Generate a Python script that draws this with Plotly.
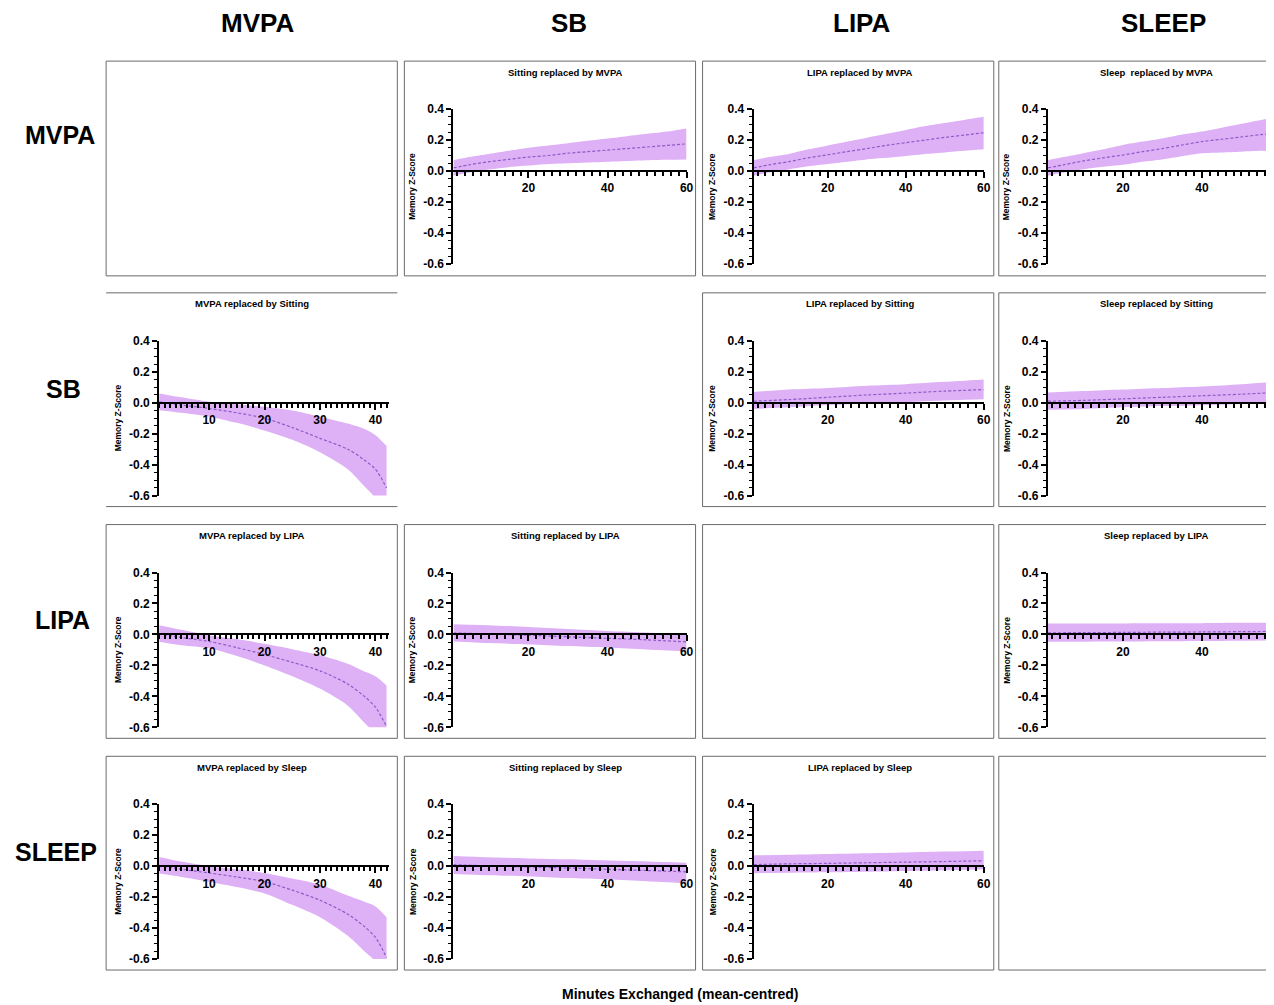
import plotly.graph_objects as go

# Empirical page geometry: plot div offset inside page, and capture scale
OX, OY = 8, 14
SX, SY = 1274 / 1282, 1005 / 1018
FW, FH = 1274, 1004          # figure size

# ---------------- data ----------------
row_labels = ["MVPA", "SB", "LIPA", "SLEEP"]
col_labels = ["MVPA", "SB", "LIPA", "SLEEP"]
y_tickvals = [0.4, 0.2, 0.0, -0.2, -0.4, -0.6]
y_ticktext = ["0.4", "0.2", "0.0", "-0.2", "-0.4", "-0.6"]
x_ticks_mvpa = [10, 20, 30, 40]
x_ticks_other = [20, 40, 60]
x_axis_title = "Minutes Exchanged (mean-centred)"
y_axis_title = "Memory Z-Score"

# minutes exchanged
x_mvpa = [1, 5, 10, 15, 20, 25, 30, 35, 38, 40, 42]
x_long = [1, 5, 10, 15, 20, 25, 30, 35, 40, 45, 50, 55, 60]
x_flat = [1, 10, 20, 30, 40, 50, 60]

# Row MVPA
sit_by_mvpa_mean = [0.02, 0.04, 0.06, 0.075, 0.09, 0.10, 0.115, 0.125, 0.135, 0.145, 0.155, 0.165, 0.175]
sit_by_mvpa_up = [0.07, 0.09, 0.11, 0.13, 0.15, 0.165, 0.18, 0.195, 0.21, 0.225, 0.24, 0.255, 0.275]
sit_by_mvpa_lo = [-0.03, -0.01, 0.01, 0.025, 0.035, 0.045, 0.05, 0.055, 0.06, 0.065, 0.07, 0.073, 0.075]

lipa_by_mvpa_mean = [0.02, 0.04, 0.06, 0.085, 0.105, 0.125, 0.145, 0.165, 0.183, 0.20, 0.217, 0.232, 0.247]
lipa_by_mvpa_up = [0.07, 0.09, 0.11, 0.14, 0.165, 0.19, 0.215, 0.24, 0.265, 0.29, 0.31, 0.33, 0.35]
lipa_by_mvpa_lo = [-0.03, -0.01, 0.01, 0.03, 0.045, 0.06, 0.075, 0.085, 0.097, 0.11, 0.12, 0.13, 0.14]

sleep_by_mvpa_mean = [0.02, 0.04, 0.065, 0.085, 0.103, 0.125, 0.145, 0.168, 0.19, 0.205, 0.22, 0.235, 0.245]
sleep_by_mvpa_up = [0.07, 0.09, 0.115, 0.14, 0.168, 0.19, 0.21, 0.235, 0.255, 0.28, 0.305, 0.33, 0.35]
sleep_by_mvpa_lo = [-0.03, -0.01, 0.012, 0.028, 0.04, 0.06, 0.075, 0.095, 0.114, 0.12, 0.125, 0.13, 0.135]

# Row SB
mvpa_by_sit_mean = [0.005, -0.015, -0.037, -0.065, -0.10, -0.16, -0.23, -0.30, -0.37, -0.43, -0.55]
mvpa_by_sit_up = [0.06, 0.035, 0.007, -0.01, -0.026, -0.05, -0.09, -0.135, -0.17, -0.21, -0.28]
mvpa_by_sit_lo = [-0.048, -0.065, -0.09, -0.13, -0.18, -0.24, -0.32, -0.43, -0.54, -0.62, -0.80]

lipa_by_sit_mean = [0.01, 0.02, 0.035, 0.05, 0.062, 0.075, 0.085]
lipa_by_sit_up = [0.07, 0.085, 0.095, 0.11, 0.12, 0.135, 0.15]
lipa_by_sit_lo = [-0.04, -0.03, -0.015, -0.005, 0.005, 0.015, 0.022]

sleep_by_sit_mean = [0.01, 0.015, 0.025, 0.035, 0.045, 0.055, 0.068]
sleep_by_sit_up = [0.066, 0.075, 0.085, 0.095, 0.105, 0.12, 0.138]
sleep_by_sit_lo = [-0.045, -0.04, -0.03, -0.022, -0.016, -0.008, 0.0]

# Row LIPA
mvpa_by_lipa_mean = [0.005, -0.02, -0.045, -0.085, -0.13, -0.18, -0.235, -0.32, -0.40, -0.47, -0.595]
mvpa_by_lipa_up = [0.06, 0.03, -0.005, -0.03, -0.06, -0.095, -0.135, -0.19, -0.24, -0.27, -0.33]
mvpa_by_lipa_lo = [-0.048, -0.07, -0.09, -0.14, -0.20, -0.27, -0.35, -0.46, -0.57, -0.65, -0.85]

sit_by_lipa_mean = [0.01, 0.003, -0.005, -0.015, -0.025, -0.035, -0.048]
sit_by_lipa_up = [0.066, 0.06, 0.048, 0.035, 0.023, 0.012, 0.0]
sit_by_lipa_lo = [-0.045, -0.055, -0.065, -0.075, -0.085, -0.098, -0.11]

sleep_by_lipa_mean = [0.01, 0.012, 0.013, 0.015, 0.016, 0.018, 0.02]
sleep_by_lipa_up = [0.07, 0.07, 0.071, 0.072, 0.073, 0.075, 0.077]
sleep_by_lipa_lo = [-0.048, -0.047, -0.046, -0.044, -0.042, -0.04, -0.038]

# Row SLEEP
mvpa_by_sleep_mean = [0.005, -0.02, -0.044, -0.07, -0.10, -0.155, -0.22, -0.31, -0.39, -0.46, -0.59]
mvpa_by_sleep_up = [0.06, 0.03, 0.0, -0.02, -0.044, -0.08, -0.12, -0.19, -0.23, -0.26, -0.33]
mvpa_by_sleep_lo = [-0.048, -0.07, -0.10, -0.135, -0.176, -0.25, -0.33, -0.45, -0.55, -0.62, -0.85]

sit_by_sleep_mean = [0.01, 0.002, -0.005, -0.012, -0.02, -0.028, -0.037]
sit_by_sleep_up = [0.066, 0.058, 0.05, 0.044, 0.036, 0.03, 0.022]
sit_by_sleep_lo = [-0.05, -0.058, -0.066, -0.076, -0.085, -0.097, -0.11]

lipa_by_sleep_mean = [0.01, 0.015, 0.018, 0.022, 0.026, 0.03, 0.035]
lipa_by_sleep_up = [0.07, 0.073, 0.078, 0.083, 0.088, 0.094, 0.1]
lipa_by_sleep_lo = [-0.045, -0.043, -0.04, -0.036, -0.031, -0.026, -0.02]

# (row, col) -> (title, x, mean, lower, upper)
panels = {
    (0, 1): ("Sitting replaced by MVPA", x_long, sit_by_mvpa_mean, sit_by_mvpa_lo, sit_by_mvpa_up),
    (0, 2): ("LIPA replaced by MVPA", x_long, lipa_by_mvpa_mean, lipa_by_mvpa_lo, lipa_by_mvpa_up),
    (0, 3): ("Sleep  replaced by MVPA", x_long, sleep_by_mvpa_mean, sleep_by_mvpa_lo, sleep_by_mvpa_up),
    (1, 0): ("MVPA replaced by Sitting", x_mvpa, mvpa_by_sit_mean, mvpa_by_sit_lo, mvpa_by_sit_up),
    (1, 2): ("LIPA replaced by Sitting", x_flat, lipa_by_sit_mean, lipa_by_sit_lo, lipa_by_sit_up),
    (1, 3): ("Sleep replaced by Sitting", x_flat, sleep_by_sit_mean, sleep_by_sit_lo, sleep_by_sit_up),
    (2, 0): ("MVPA replaced by LIPA", x_mvpa, mvpa_by_lipa_mean, mvpa_by_lipa_lo, mvpa_by_lipa_up),
    (2, 1): ("Sitting replaced by LIPA", x_flat, sit_by_lipa_mean, sit_by_lipa_lo, sit_by_lipa_up),
    (2, 3): ("Sleep replaced by LIPA", x_flat, sleep_by_lipa_mean, sleep_by_lipa_lo, sleep_by_lipa_up),
    (3, 0): ("MVPA replaced by Sleep", x_mvpa, mvpa_by_sleep_mean, mvpa_by_sleep_lo, mvpa_by_sleep_up),
    (3, 1): ("Sitting replaced by Sleep", x_flat, sit_by_sleep_mean, sit_by_sleep_lo, sit_by_sleep_up),
    (3, 2): ("LIPA replaced by Sleep", x_flat, lipa_by_sleep_mean, lipa_by_sleep_lo, lipa_by_sleep_up),
}

# ---------------- layout geometry (target-picture pixels) ----------------
col_axis_px = [(159, 389), (453, 686), (753, 983), (1047, 1274)]
x_ranges = [[1, 42.5], [1, 60], [1, 60], [1, 58.5]]
row_top_px = [108, 340, 572, 804]
plot_h = 155
Y_RANGE = [-0.6, 0.4]
col_box_px = [(106, 397), (404, 695), (702, 993), (998, 1290)]
row_box_px = [(60, 275), (292, 506), (524, 738), (756, 970)]
title_x_px = [252, 565, 859, 1156]

FILL = "rgb(222,176,246)"
LINE = "#8c5cc8"
FONT = "Liberation Sans, Arial, sans-serif"


def px(x):
    return (x / SX - OX) / FW


def py(y):
    return 1 - (y / SY - OY) / FH


fig = go.Figure()
layout = dict(
    width=FW, height=FH, margin=dict(l=0, r=0, t=0, b=0, pad=0),
    paper_bgcolor="white", plot_bgcolor="rgba(0,0,0,0)",
    showlegend=False, font=dict(family=FONT, color="black"),
)
annotations = []
shapes = []

for i, ((r, c), (title, xs, mean, lo, up)) in enumerate(panels.items(), start=1):
    xa = "x" if i == 1 else f"x{i}"
    ya = "y" if i == 1 else f"y{i}"
    x0, x1 = col_axis_px[c]
    top = row_top_px[r]
    bot = top + plot_h
    ydom = [py(bot), min(1.0, py(top))]
    zero_pos = ydom[0] + (0 - Y_RANGE[0]) / (Y_RANGE[1] - Y_RANGE[0]) * (ydom[1] - ydom[0])

    fig.add_trace(go.Scatter(x=xs, y=lo, mode="lines", line=dict(width=0, color=FILL, shape="spline", smoothing=0.8),
                             xaxis=xa, yaxis=ya, hoverinfo="skip"))
    fig.add_trace(go.Scatter(x=xs, y=up, mode="lines", line=dict(width=0, color=FILL, shape="spline", smoothing=0.8),
                             fill="tonexty", fillcolor=FILL, xaxis=xa, yaxis=ya, hoverinfo="skip"))
    fig.add_trace(go.Scatter(x=xs, y=mean, mode="lines",
                             line=dict(width=1.2, color=LINE, dash="3px,2px", shape="spline", smoothing=0.8),
                             xaxis=xa, yaxis=ya))

    mvpa_col = c == 0
    layout["xaxis" if i == 1 else f"xaxis{i}"] = dict(
        domain=[px(x0), min(1.0, px(x1))], range=x_ranges[c], anchor="free", position=zero_pos,
        showline=True, linewidth=2, linecolor="black", showgrid=False, zeroline=False,
        tickmode="array", tickvals=x_ticks_mvpa if mvpa_col else x_ticks_other,
        ticks="outside", ticklen=6, tickwidth=1.5, tickcolor="black",
        tickfont=dict(family=FONT, size=12, weight="bold", color="black"),
        minor=dict(dtick=1 if mvpa_col else 2, tick0=0, ticks="outside", ticklen=4,
                   tickwidth=1.5, tickcolor="black", showgrid=False),
        fixedrange=True,
    )
    layout["yaxis" if i == 1 else f"yaxis{i}"] = dict(
        domain=ydom, range=Y_RANGE, anchor=xa,
        showline=True, linewidth=2, linecolor="black", showgrid=False, zeroline=False,
        tickmode="array", tickvals=y_tickvals, ticktext=y_ticktext,
        ticks="outside", ticklen=5, tickwidth=1.5, tickcolor="black",
        tickfont=dict(family=FONT, size=12, weight="bold", color="black"),
        minor=dict(dtick=0.05, tick0=0, ticks="outside", ticklen=3, tickwidth=1,
                   tickcolor="black", showgrid=False),
        fixedrange=True,
    )
    # panel title
    annotations.append(dict(text=title, x=px(title_x_px[c]),
                            y=py(row_box_px[r][0] + 11), xref="paper", yref="paper",
                            showarrow=False, xanchor="center", yanchor="middle",
                            font=dict(family=FONT, size=9.5, weight="bold", color="black")))
    # y axis title
    annotations.append(dict(text=y_axis_title, x=px(x0 - 41), y=py((top + bot) / 2),
                            xref="paper", yref="paper", textangle=-90, showarrow=False,
                            xanchor="center", yanchor="middle",
                            font=dict(family=FONT, size=8.5, weight="bold", color="black")))

# panel frames
box_color = "#6a6a6a"
full_boxes = [(0, 0), (0, 1), (0, 2), (0, 3), (1, 2), (1, 3), (2, 0), (2, 1), (2, 2), (2, 3),
              (3, 0), (3, 1), (3, 2), (3, 3)]
for (r, c) in full_boxes:
    bx0, bx1 = col_box_px[c]
    by0, by1 = row_box_px[r]
    shapes.append(dict(type="rect", xref="paper", yref="paper", x0=px(bx0), x1=px(bx1),
                       y0=py(by1), y1=py(by0), line=dict(color=box_color, width=1)))
# open frame (top & bottom rules only) for MVPA replaced by Sitting
for yy in row_box_px[1]:
    shapes.append(dict(type="line", xref="paper", yref="paper", x0=px(col_box_px[0][0]),
                       x1=px(col_box_px[0][1]), y0=py(yy), y1=py(yy),
                       line=dict(color=box_color, width=1)))

# column headers and row labels
header_x = [257, 569, 861, 1163]
for lab, hx in zip(col_labels, header_x):
    annotations.append(dict(text=lab, x=px(hx), y=py(22), xref="paper", yref="paper",
                            showarrow=False, xanchor="center", yanchor="middle",
                            font=dict(family=FONT, size=26, weight="bold", color="black")))
row_label_pos = [(60, 134), (63, 388), (62, 620), (56, 852)]
for lab, (rx, ry) in zip(row_labels, row_label_pos):
    annotations.append(dict(text=lab, x=px(rx), y=py(ry), xref="paper", yref="paper",
                            showarrow=False, xanchor="center", yanchor="middle",
                            font=dict(family=FONT, size=25, weight="bold", color="black")))
annotations.append(dict(text=x_axis_title, x=px(680), y=py(994), xref="paper", yref="paper",
                        showarrow=False, xanchor="center", yanchor="middle",
                        font=dict(family=FONT, size=14, weight="bold", color="black")))

layout["annotations"] = annotations
layout["shapes"] = shapes
fig.update_layout(**layout)
fig.write_html(
    "out.html",
    config={"displayModeBar": False},
    post_script="document.documentElement.style.overflow='hidden';document.body.style.overflow='hidden';",
)
